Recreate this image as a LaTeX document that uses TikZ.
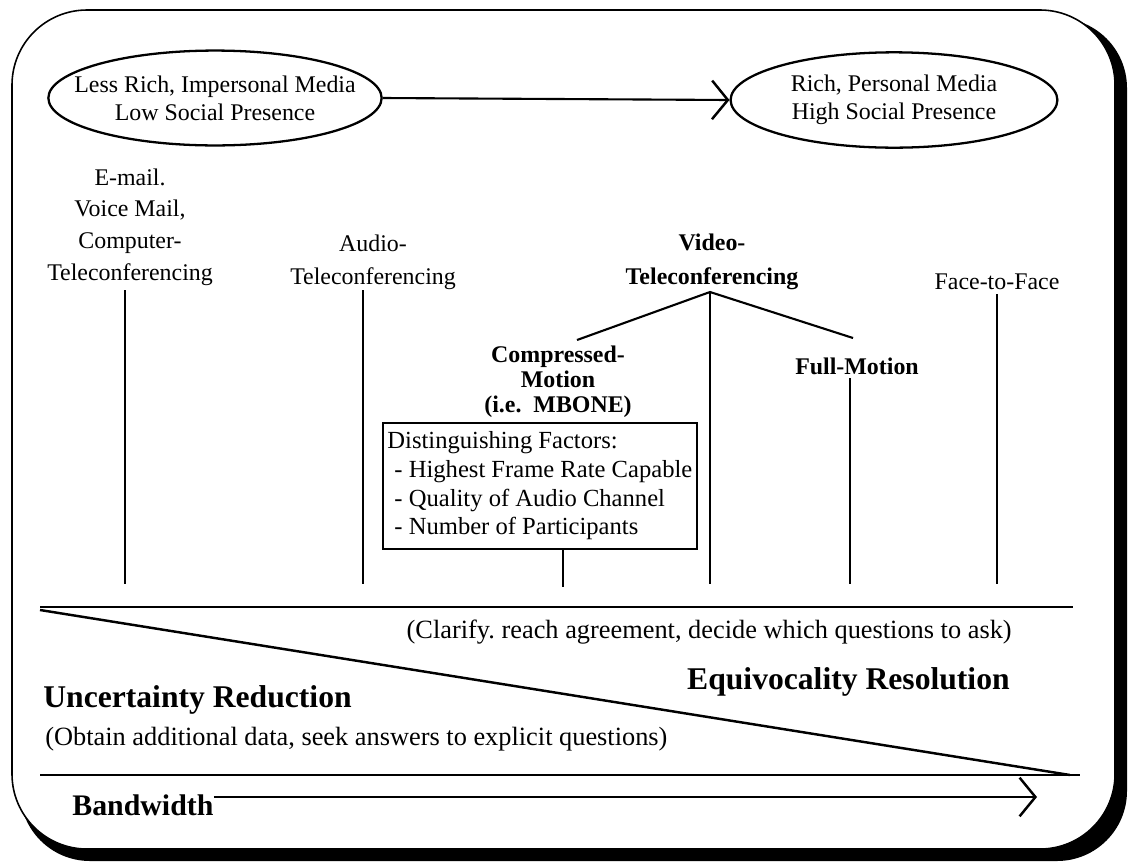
\documentclass[tikz,border=0pt]{standalone}
\usepackage{fontspec}
\setmainfont{Liberation Serif}
\usetikzlibrary{arrows.meta, shapes.geometric, positioning, calc}

\tikzset{
    plain/.style={font=\fontsize{13.6}{18}\selectfont, align=center, inner sep=0pt},
    boldlabel/.style={font=\bfseries\fontsize{13.6}{18}\selectfont, align=center, inner sep=0pt},
    bigbold/.style={font=\bfseries\fontsize{18}{21}\selectfont, inner sep=0pt},
    note/.style={font=\frenchspacing\fontsize{15}{18}\selectfont, inner sep=0pt},
    media/.style={ellipse, draw, line width=1.3pt, align=center, inner ysep=5pt,
        minimum height=54pt, font=\fontsize{13.6}{16}\selectfont},
    stem/.style={line width=1.2pt},
    rule/.style={line width=1.4pt},
    barb/.style={line width=1.2pt, -{Straight Barb[length=9pt, width=22pt, line width=1.4pt]}}
}

\begin{document}
\begin{tikzpicture}[x=0.02cm, y=-0.02cm]
    \useasboundingbox (0, 0) rectangle (1129, 866);

    % frame with its shadow
    \fill[rounded corners=1.4cm] (20, 18) rectangle (1127, 861);
    \draw[fill=white, line width=0.9pt, rounded corners=1.5cm] (12, 10) rectangle (1115, 849);

    % media richness scale
    \node[media, inner xsep=-13pt, minimum width=189pt] (lessrich) at (215, 98)
        {Less Rich, Impersonal Media\\Low Social Presence};
    \node[media, inner xsep=0pt, minimum width=186pt] (rich) at (894, 100)
        {Rich, Personal Media\\High Social Presence};
    \draw[barb] (lessrich.east) -- (rich.west);

    % channels
    \node[plain] (email) at (130, 227) {E-mail.\\Voice Mail,\\Computer-\\Teleconferencing};
    \node[plain, font=\fontsize{13.6}{19}\selectfont] (audio) at (373, 262) {Audio-\\Teleconferencing};
    \node[boldlabel, font=\bfseries\fontsize{13.6}{19}\selectfont] (video) at (712, 262) {Video-\\Teleconferencing};
    \node[plain] (face) at (997, 282) {Face-to-Face};
    \node[boldlabel, font=\bfseries\fontsize{13.6}{14.2}\selectfont] (compressed) at (558, 382)
        {Compressed-\\Motion\\(i.e.~~MBONE)};
    \node[boldlabel] (full) at (857, 366) {Full-Motion};

    \node[draw, line width=1.2pt, align=left, anchor=north west, inner xsep=2.5pt, inner ysep=5pt,
        font=\fontsize{14}{16.3}\selectfont] (factors) at (382, 422)
        {Distinguishing Factors:\\
        \hspace{4pt}- Highest Frame Rate Capable\\
        \hspace{4pt}- Quality of Audio Channel\\
        \hspace{4pt}- Number of Participants};

    % stems down to the top rule
    \coordinate (emailtop) at (125, 290);
    \coordinate (audiotop) at (363, 290);
    \coordinate (videotop) at (710, 292);
    \coordinate (facetop) at (997, 294);
    \coordinate (fulltop) at (850, 378);
    \coordinate (compend) at (577, 340);
    \coordinate (fullend) at (853, 338);
    \coordinate (stemfoot) at (0, 584);
    \coordinate (boxfoot) at (563, 587);

    \draw[stem] (emailtop) -- (emailtop |- stemfoot);
    \draw[stem] (audiotop) -- (audiotop |- stemfoot);
    \draw[stem] (videotop) -- (videotop |- stemfoot);
    \draw[stem] (facetop) -- (facetop |- stemfoot);
    \draw[stem] (fulltop) -- (fulltop |- stemfoot);
    \draw[stem] (factors.south -| boxfoot) -- (boxfoot);
    \draw[stem] (compend) -- (videotop) -- (fullend);

    % equivocality vs uncertainty
    \coordinate (topleft) at (40, 607);
    \coordinate (topright) at (1073, 607);
    \coordinate (botleft) at (40, 775);
    \coordinate (botright) at (1080, 775);
    \draw[rule] (topleft) -- (topright);
    \draw[rule] (botleft) -- (botright);
    \draw[rule] (40, 610) -- (1070, 775);

    \node[note, anchor=east] (clarify) at (1012, 632)
        {(Clarify. reach agreement, decide which questions to ask)};
    \node[bigbold, anchor=east] (equiv) at (1010, 682) {Equivocality Resolution};
    \node[bigbold, anchor=west] (uncert) at (43, 700) {Uncertainty Reduction};
    \node[note, anchor=west] (obtain) at (45, 739)
        {(Obtain additional data, seek answers to explicit questions)};

    % bandwidth
    \node[bigbold, font=\bfseries\fontsize{17}{20}\selectfont, anchor=west] (bw) at (72, 805) {Bandwidth};
    \coordinate (bwend) at (1037, 797);
    \draw[barb] (bw.east |- bwend) -- (bwend);
\end{tikzpicture}
\end{document}
